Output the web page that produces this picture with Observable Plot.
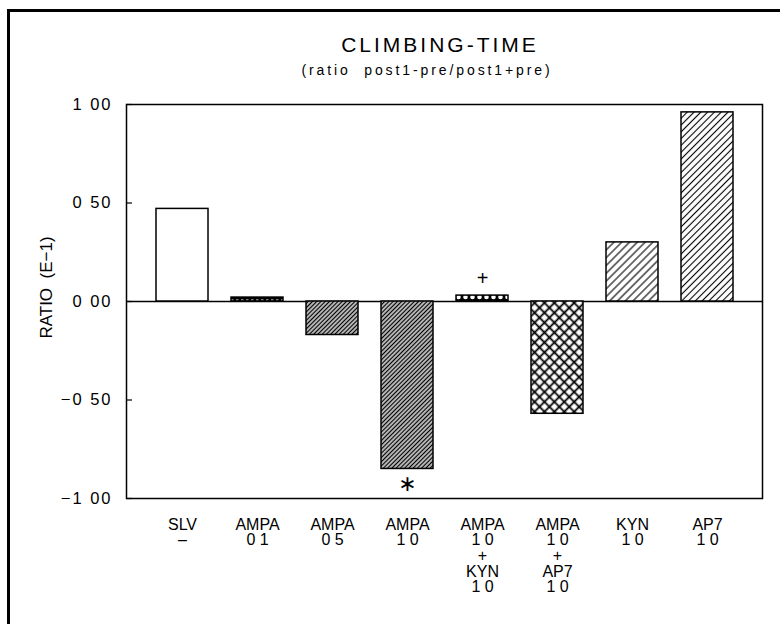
<!DOCTYPE html>
<html>
<head>
<meta charset="utf-8">
<script src="https://cdn.jsdelivr.net/npm/d3@7"></script>
<script src="https://cdn.jsdelivr.net/npm/@observablehq/plot@0.6"></script>
<style>
  html, body { margin: 0; padding: 0; background: white; }
  #wrap { position: relative; width: 780px; height: 624px; overflow: hidden; background: white; font-family: "Liberation Sans", Arial, sans-serif; }
  #border { position: absolute; left: 7px; top: 9px; width: 800px; height: 700px; border-left: 3px solid black; border-top: 3px solid black; }
  #title { position: absolute; left: 0; width: 880px; top: 33px; text-align: center; font-size: 21px; letter-spacing: 3px; line-height: 24px; color: black; }
  #subtitle { position: absolute; left: 0; width: 854px; top: 61px; text-align: center; font-size: 14px; letter-spacing: 2.9px; line-height: 18px; color: black; }
  #chart { position: absolute; left: 0; top: 90px; }
</style>
</head>
<body>
<svg width="0" height="0" style="position:absolute">
  <defs>
    <pattern id="pDense" patternUnits="userSpaceOnUse" width="3" height="3" patternTransform="rotate(45)">
      <rect width="3" height="3" fill="white"/>
      <line x1="1.5" y1="0" x2="1.5" y2="3" stroke="black" stroke-width="1.6"/>
    </pattern>
    <pattern id="pDash" patternUnits="userSpaceOnUse" width="5" height="4">
      <rect width="5" height="4" fill="black"/>
      <line x1="1" y1="2" x2="3.5" y2="2" stroke="white" stroke-width="1"/>
    </pattern>
    <pattern id="pCircle" patternUnits="userSpaceOnUse" width="7" height="6">
      <rect width="7" height="6" fill="black"/>
      <circle cx="3.5" cy="3" r="2.3" fill="white"/>
    </pattern>
    <pattern id="pCross" patternUnits="userSpaceOnUse" width="7" height="7" patternTransform="rotate(45)">
      <rect width="7" height="7" fill="white"/>
      <line x1="3.5" y1="0" x2="3.5" y2="7" stroke="black" stroke-width="1.8"/>
      <line x1="0" y1="3.5" x2="7" y2="3.5" stroke="black" stroke-width="1.8"/>
    </pattern>
    <pattern id="pSparse" patternUnits="userSpaceOnUse" width="5.5" height="5.5" patternTransform="rotate(45)">
      <rect width="5.5" height="5.5" fill="white"/>
      <line x1="2.75" y1="0" x2="2.75" y2="5.5" stroke="black" stroke-width="1.1"/>
    </pattern>
    <pattern id="pSparse2" patternUnits="userSpaceOnUse" width="4.8" height="4.8" patternTransform="rotate(45)">
      <rect width="4.8" height="4.8" fill="white"/>
      <line x1="2.4" y1="0" x2="2.4" y2="4.8" stroke="black" stroke-width="1.1"/>
    </pattern>
  </defs>
</svg>
<div id="wrap">
  <div id="border"></div>
  <div id="title">CLIMBING-TIME</div>
  <div id="subtitle">(ratio&nbsp; post1-pre/post1+pre)</div>
  <div id="chart"></div>
</div>
<script>
// ---- data ----
const groups = ["SLV", "AMPA 0.1", "AMPA 0.5", "AMPA 1.0", "AMPA 1.0 + KYN 1.0", "AMPA 1.0 + AP7 1.0", "KYN 1.0", "AP7 1.0"];
const ratios = [0.47, 0.02, -0.17, -0.85, 0.03, -0.57, 0.30, 0.96];
const xTickLabels = ["SLV\n–", "AMPA\n0 1", "AMPA\n0 5", "AMPA\n1 0", "AMPA\n1 0\n+\nKYN\n1 0", "AMPA\n1 0\n+\nAP7\n1 0", "KYN\n1 0", "AP7\n1 0"];
const yTicks = [-1, -0.5, 0, 0.5, 1];
const yTickLabels = ["−1 00", "−0 50", "0 00", "0 50", "1 00"];
const yLabel = "RATIO  (E−1)";
const starGroups = ["AMPA 1.0"];
const plusGroups = ["AMPA 1.0 + KYN 1.0"];

// ---- styles (fill patterns per group) ----
const patternFills = ["white", "url(#pDash)", "url(#pDense)", "url(#pDense)", "url(#pCircle)", "url(#pCross)", "url(#pSparse)", "url(#pSparse2)"];

const data = groups.map((g, i) => ({group: g, ratio: ratios[i]}));
const valueOf = g => ratios[groups.indexOf(g)];

const chart = Plot.plot({
  width: 780,
  height: 534,
  marginTop: 14,
  marginBottom: 126,
  marginLeft: 126,
  marginRight: 18,
  style: {fontFamily: "'Liberation Sans', Arial, sans-serif", fontSize: "15px", color: "black", background: "transparent", overflow: "visible"},
  x: {domain: groups, range: [143, 745], paddingInner: 0.31, paddingOuter: 0.155},
  y: {domain: [-1, 1]},
  color: {domain: groups, range: patternFills},
  marks: [
    Plot.ruleY([0], {stroke: "black", strokeWidth: 1.6}),
    Plot.barY(data, {x: "group", y: "ratio", fill: "group", stroke: "black", strokeWidth: 1.5}),
    Plot.text(starGroups, {x: d => d, y: valueOf, text: () => "∗", dy: 15, fontSize: 22, fontFamily: "DejaVu Sans"}),
    Plot.text(plusGroups, {x: d => d, y: valueOf, text: () => "+", dy: -17, fontSize: 20}),
    Plot.frame({stroke: "black", strokeWidth: 1.5}),
    Plot.axisY({ticks: yTicks, tickFormat: d => yTickLabels[yTicks.indexOf(d)], tickSize: 0, tickPadding: 14, fontSize: 16.5, label: null}),
    Plot.axisY({ticks: yTicks, tickSize: -6, text: null, label: null, strokeWidth: 1.2}),
    Plot.axisX({tickSize: 0, tickPadding: 20, tickFormat: d => xTickLabels[groups.indexOf(d)], fontSize: 16, lineHeight: 0.98, label: null}),
    Plot.text([yLabel], {text: d => d, frameAnchor: "left", textAnchor: "middle", dx: -80, dy: -14, rotate: -90, fontSize: 17})
  ]
});
document.getElementById("chart").appendChild(chart);
d3.select(chart).selectAll('g[aria-label="y-axis tick label"] text').style("letter-spacing", "2px");
</script>
</body>
</html>
